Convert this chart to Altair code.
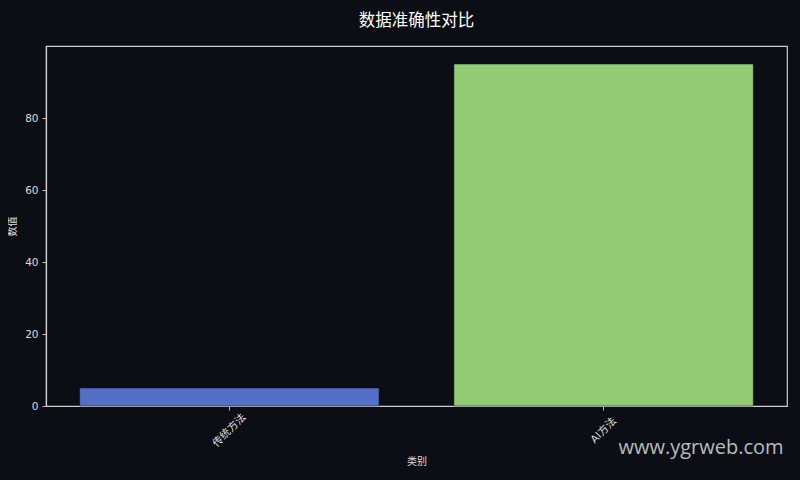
import altair as alt
import pandas as pd

categories = ["传统方法", "AI方法"]
values = [5, 95]
colors = ["#5470c6", "#91cc75"]

df = pd.DataFrame({"类别": categories, "数值": values, "color": colors})

FONT = "DejaVu Sans, Noto Sans CJK SC"
BG = "#0b0e15"

bars = alt.Chart(df).mark_bar(stroke=BG, strokeWidth=0.5).encode(
    x=alt.X("类别:N", sort=categories,
            scale=alt.Scale(paddingInner=0.2, paddingOuter=0.09),
            axis=alt.Axis(title="类别", labelAngle=315, labelAlign="center",
                          labelBaseline="middle", labelPadding=20)),
    y=alt.Y("数值:Q", scale=alt.Scale(domain=[0, 100], nice=False),
            axis=alt.Axis(title="数值", values=[0, 20, 40, 60, 80])),
    color=alt.Color("color:N", scale=None),
)

wm = alt.Chart(pd.DataFrame({"t": ["www.ygrweb.com"]})).mark_text(
    fontSize=20, color="#d8d8d8", opacity=0.85, font="Open Sans, DejaVu Sans",
    align="center", baseline="middle"
).encode(text="t:N", x=alt.value(655), y=alt.value(402))

chart = alt.layer(bars, wm).properties(
    width=741, height=360,
    title=alt.TitleParams("数据准确性对比", fontSize=16.5, color="#ffffff",
                          font=FONT, fontWeight="normal", offset=17),
    autosize=alt.AutoSizeParams(type="none"),
    padding={"left": 38, "top": 38, "right": 5, "bottom": 66},
    background=BG,
).configure_view(
    stroke="#d0d0d0", strokeWidth=1.2, fill=BG
).configure_axis(
    domainColor="#d0d0d0", domainWidth=1.2, tickColor="#bbbbbb", tickSize=4,
    labelColor="#dddddd", labelFont=FONT, labelFontSize=10.5,
    titleColor="#dddddd", titleFont=FONT, titleFontSize=10, titleFontWeight="normal",
    grid=False,
).configure_axisY(titlePadding=7, labelPadding=4
).configure_axisX(titlePadding=8)

chart.save("out.html", embed_options={"renderer": "svg", "actions": False})

# dark page background so the 8px page margin matches the chart
with open("out.html", encoding="utf-8") as f:
    html = f.read()
html = html.replace("<head>", "<head><style>html,body{background:%s;}</style>" % BG, 1)
with open("out.html", "w", encoding="utf-8") as f:
    f.write(html)
